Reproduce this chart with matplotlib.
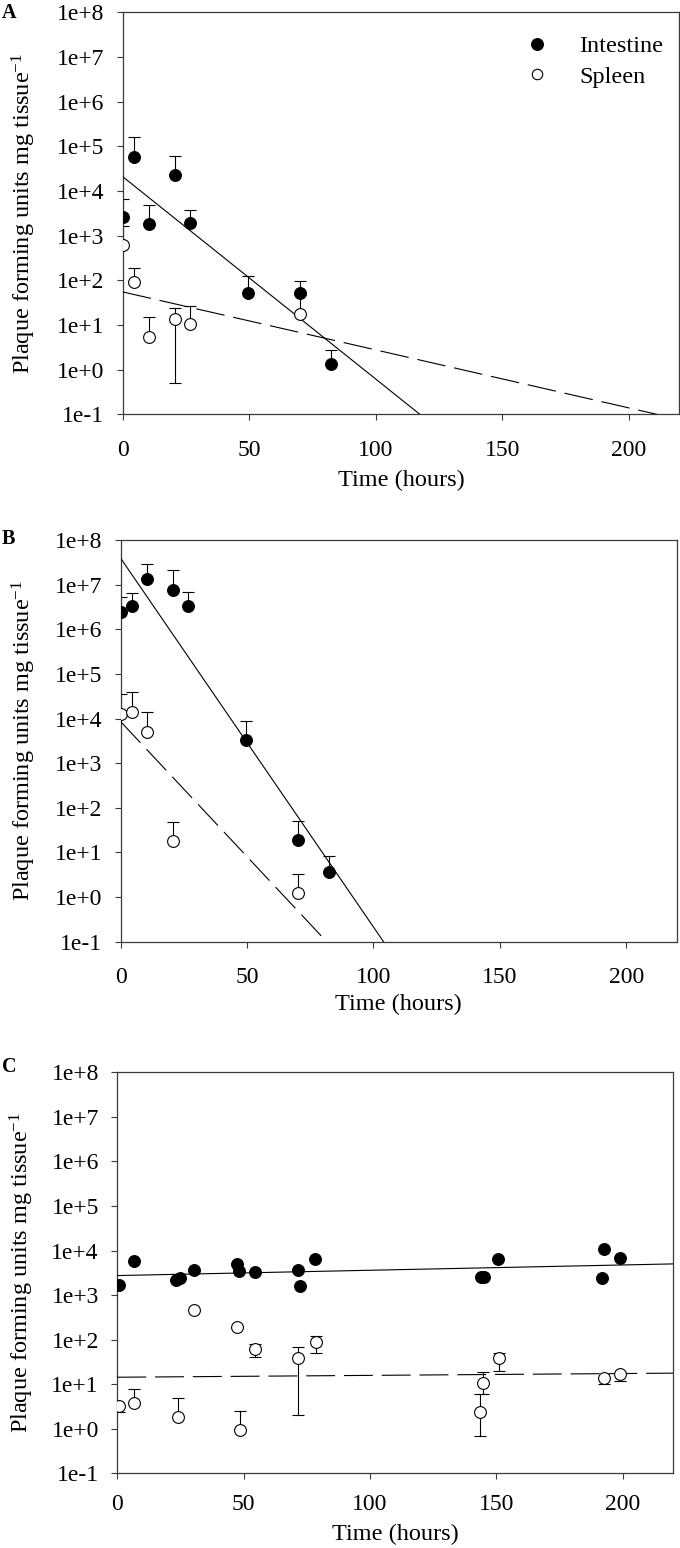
import numpy as np
import matplotlib
matplotlib.use('Agg')
import matplotlib.pyplot as plt
from matplotlib.lines import Line2D
from matplotlib.ticker import NullLocator

plt.rcParams['font.family'] = ['Liberation Serif', 'DejaVu Serif']
plt.rcParams['mathtext.fontset'] = 'custom'
plt.rcParams['mathtext.rm'] = 'Liberation Serif'
plt.rcParams['mathtext.it'] = 'Liberation Serif:italic'

# ---- data ----
y_ticks = [1e-1, 1e0, 1e1, 1e2, 1e3, 1e4, 1e5, 1e6, 1e7, 1e8]
y_tick_labels = ['1e-1', '1e+0', '1e+1', '1e+2', '1e+3', '1e+4', '1e+5', '1e+6', '1e+7', '1e+8']
x_ticks = [0, 50, 100, 150, 200]

# panel A
a_int_t = [0, 4.5, 10.5, 20.5, 26.5, 49.5, 70, 82.5]
a_int_y = [2660, 56700, 1820, 23200, 1890, 53, 51, 1.34]
a_int_up = [3940, 103300, 3130, 38800, 1930, 74, 46, 1.41]
a_int_dn = [0, 0, 0, 0, 0, 0, 0, 0]
a_spl_t = [0, 4.5, 10.5, 20.5, 26.5, 70]
a_spl_y = [618, 93, 5.3, 13.4, 10.5, 17.6]
a_spl_up = [1057, 99, 9.6, 11.1, 16.1, 30]
a_spl_dn = [0, 0, 0, 12.9, 0, 0]
a_fit_int = (4.32, -0.0453)   # log10(pfu) = a + b*t
a_fit_spl = (1.74, -0.01298)

# panel B
b_int_t = [0, 4.5, 10.5, 20.5, 26.5, 49.5, 70, 82.5]
b_int_y = [2.48e6, 3.38e6, 1.31e7, 7.7e6, 3.32e6, 3300, 19, 3.7]
b_int_up = [2.72e6, 3.02e6, 1.54e7, 1.36e7, 3.63e6, 5350, 31.6, 4.8]
b_int_dn = [0, 0, 0, 0, 0, 0, 0, 0]
b_spl_t = [0, 4.5, 10.5, 20.5, 70]
b_spl_y = [1.26e4, 1.38e4, 5080, 18, 1.21]
b_spl_up = [2.29e4, 2.52e4, 8920, 31, 2.08]
b_spl_dn = [0, 0, 0, 0, 0]
b_fit_int = (7.59, -0.0826)
b_fit_spl = (3.93, -0.0605)

# panel C
c_int_t = [0.5, 6.7, 23.4, 24.7, 30.4, 47.2, 48.3, 54.3, 71.4, 72.3, 78.2,
           143.8, 145.1, 150.8, 191.8, 192.7, 198.9]
c_int_y = [1690, 5940, 2190, 2430, 3670, 5090, 3430, 3250, 3600, 1630, 6590,
           2560, 2560, 6370, 2430, 10900, 6710]
c_spl_t = [0.5, 6.6, 23.9, 30.4, 47.2, 48.4, 54.3, 71.4, 78.5,
           143.6, 144.6, 150.9, 192.7, 198.9]
c_spl_y = [3.26, 3.87, 1.88, 464, 190, 0.94, 62, 38.3, 90.6,
           2.35, 10.5, 38.3, 14.1, 16.7]
c_spl_up = [0, 3.8, 2.9, 0, 0, 1.53, 17, 31.7, 32.4, 3.65, 8.1, 12.7, 0, 0]
c_spl_dn = [0.9, 0, 0, 0, 0, 0, 22, 36.3, 39.6, 1.66, 4.5, 18.1, 3.9, 4.6]
c_fit_int = (3.438, 0.00119)
c_fit_spl = (1.156, 0.000417)

W, H = 680, 1548
fig = plt.figure(figsize=(W / 100, H / 100), dpi=100)

FS = 17.5
SPINE = '#3a3a3a'


def px_axes(l, t, r, b):
    return fig.add_axes([l / W, 1 - b / H, (r - l) / W, (b - t) / H])


def draw_panel(ax, int_t, int_y, int_up, int_dn, spl_t, spl_y, spl_up, spl_dn,
               fit_int, fit_spl, xpad, ylab_px, xlab_off):
    ax.set_yscale('log')
    if int_up is not None:
        ax.errorbar(int_t, int_y, yerr=[int_dn, int_up], fmt='none', ecolor='black',
                    elinewidth=0.8, capsize=4.2, capthick=0.8, zorder=2)
    ax.errorbar(spl_t, spl_y, yerr=[spl_dn, spl_up], fmt='none', ecolor='black',
                elinewidth=0.8, capsize=4.2, capthick=0.8, zorder=2)
    tt = np.array([0.0, 220.0])
    ax.plot(tt, 10 ** (fit_int[0] + fit_int[1] * tt), '-', color='black', lw=0.8, zorder=3)
    ax.plot(tt, 10 ** (fit_spl[0] + fit_spl[1] * tt), color='black', lw=0.8,
            dashes=(26, 8), zorder=3)
    ax.plot(int_t, int_y, 'o', ms=8.5, mfc='black', mec='black', mew=0.8, zorder=4)
    ax.plot(spl_t, spl_y, 'o', ms=8.5, mfc='white', mec='black', mew=0.8, zorder=4)

    ax.set_xlim(0, 220)
    ax.set_ylim(0.1, 1e8)
    ax.set_yticks(y_ticks)
    ax.set_yticklabels(y_tick_labels)
    ax.yaxis.set_minor_locator(NullLocator())
    ax.set_xticks(x_ticks)
    ax.tick_params(axis='both', direction='out', length=4.3, width=0.8,
                   color=SPINE, labelsize=17)
    ax.tick_params(axis='y', pad=9)
    ax.tick_params(axis='x', pad=xpad)
    for s in ax.spines.values():
        s.set_color(SPINE)
        s.set_linewidth(0.9)

    ax.set_xlabel('Time (hours)', fontsize=FS)
    ax.set_ylabel('Plaque forming units mg tissue$^{-1}$', fontsize=FS)
    bb = ax.get_position()
    ax_w = bb.width * W
    ax_h = bb.height * H
    ax_l = bb.x0 * W
    ax.yaxis.set_label_coords((ylab_px - ax_l) / ax_w, 0.5)
    ax.xaxis.label.set_va('center')
    ax.xaxis.set_label_coords(0.5, -xlab_off / ax_h)


ax_a = px_axes(122.7, 12.3, 679.3, 414.3)
ax_b = px_axes(120.7, 540.0, 676.7, 941.7)
ax_c = px_axes(117.3, 1072.3, 673.3, 1473.3)

draw_panel(ax_a, a_int_t, a_int_y, a_int_up, a_int_dn, a_spl_t, a_spl_y, a_spl_up,
           a_spl_dn, a_fit_int, a_fit_spl, 14, 38, 66)
draw_panel(ax_b, b_int_t, b_int_y, b_int_up, b_int_dn, b_spl_t, b_spl_y, b_spl_up,
           b_spl_dn, b_fit_int, b_fit_spl, 14, 38, 62.5)
draw_panel(ax_c, c_int_t, c_int_y, None, None, c_spl_t, c_spl_y, c_spl_up,
           c_spl_dn, c_fit_int, c_fit_spl, 10.5, 36.5, 61)

handles = [Line2D([], [], ls='none', marker='o', ms=8.5, mfc='black', mec='black', mew=0.8),
           Line2D([], [], ls='none', marker='o', ms=7.5, mfc='white', mec='black', mew=0.8)]
ax_a.legend(handles, ['Intestine', 'Spleen'], loc='upper right', frameon=False,
            fontsize=FS, handlelength=1.0, handletextpad=1.25, labelspacing=0.35,
            borderpad=0, borderaxespad=0,
            bbox_to_anchor=(1 - 16 / 556.6, 1 - 23 / 402))

for letter, ytop in [('A', 18.3), ('B', 544), ('C', 1071.7)]:
    fig.text(2 / W, 1 - ytop / H, letter, fontsize=14.5, fontweight='bold',
             ha='left', va='baseline')

fig.savefig('out.png', dpi=100)
